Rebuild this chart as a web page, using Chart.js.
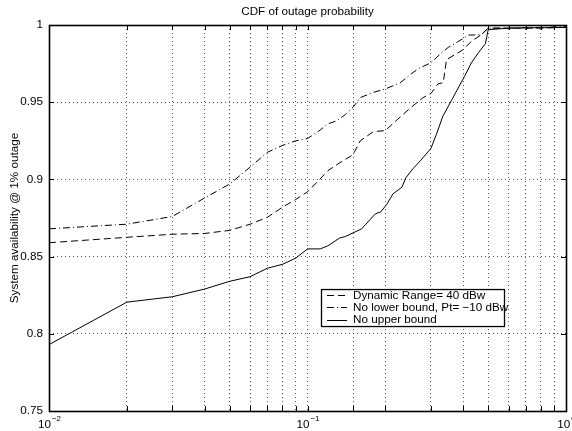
<!DOCTYPE html>
<html>
<head>
<meta charset="utf-8">
<script src="https://cdn.jsdelivr.net/npm/chart.js@4"></script>
<style>
  body { margin: 0; background: #fff; }
  canvas { display: block; }
</style>
</head>
<body>
<canvas id="cdfChart" width="572" height="431"></canvas>
<script>
// values
const rangeX = [0.01, 0.02, 0.03, 0.04, 0.05, 0.06, 0.07, 0.08, 0.09, 0.1, 0.11, 0.12, 0.13, 0.14, 0.15, 0.16, 0.18, 0.2, 0.22, 0.25, 0.28, 0.3, 0.32, 0.335, 0.345, 0.4, 0.43, 0.47, 0.5, 0.6, 0.8, 1];
const rangeY = [0.859, 0.8625, 0.8645, 0.865, 0.867, 0.871, 0.8755, 0.882, 0.887, 0.892, 0.899, 0.9057, 0.9096, 0.913, 0.916, 0.925, 0.931, 0.9316, 0.938, 0.9463, 0.953, 0.9556, 0.962, 0.9626, 0.9776, 0.984, 0.9894, 0.9937, 0.998, 0.998, 0.998, 0.9985];

const lowerX = [0.01, 0.02, 0.03, 0.04, 0.05, 0.06, 0.07, 0.08, 0.09, 0.1, 0.11, 0.12, 0.13, 0.14, 0.15, 0.16, 0.18, 0.2, 0.228, 0.25, 0.27, 0.3, 0.33, 0.35, 0.38, 0.42, 0.47, 0.5, 0.6, 0.8, 1];
const lowerY = [0.868, 0.871, 0.876, 0.888, 0.897, 0.908, 0.9176, 0.922, 0.925, 0.9265, 0.931, 0.936, 0.938, 0.942, 0.9467, 0.953, 0.9564, 0.9586, 0.9625, 0.968, 0.972, 0.9755, 0.982, 0.9855, 0.989, 0.9935, 0.9937, 0.998, 0.998, 0.9985, 0.999];

const upperX = [0.01, 0.02, 0.03, 0.04, 0.05, 0.06, 0.07, 0.08, 0.09, 0.1, 0.112, 0.12, 0.133, 0.14, 0.162, 0.183, 0.192, 0.203, 0.214, 0.232, 0.24, 0.256, 0.273, 0.3, 0.315, 0.334, 0.362, 0.385, 0.405, 0.43, 0.458, 0.488, 0.5, 0.6, 1];
const upperY = [0.793, 0.8205, 0.824, 0.829, 0.834, 0.837, 0.8425, 0.845, 0.849, 0.855, 0.855, 0.857, 0.862, 0.863, 0.868, 0.8777, 0.879, 0.884, 0.8906, 0.895, 0.901, 0.907, 0.912, 0.92, 0.929, 0.941, 0.9517, 0.96, 0.9667, 0.9754, 0.982, 0.988, 0.997, 0.998, 0.9985];

const seriesNames = ['Dynamic Range= 40 dBw', 'No lower bound, Pt= \u221210 dBw', 'No upper bound'];
const yTicks = [0.75, 0.8, 0.85, 0.9, 0.95, 1];

const FONT = "'Liberation Sans', Arial, Helvetica, sans-serif";
const FS = 11.7;

function toPoints(xs, ys) {
    return xs.map((x, i) => ({x: x, y: ys[i]}));
}

// frame, inside tick marks, x labels with exponents, legend box
const matlabAxes = {
    id: 'matlab-axes',
    afterDraw(chart) {
        const {ctx, chartArea} = chart;
        const {left, right, top, bottom} = chartArea;
        const xs = chart.scales.x;
        const ys = chart.scales.y;
        ctx.save();
        ctx.strokeStyle = '#000';
        ctx.lineWidth = 1;
        ctx.setLineDash([]);

        ctx.beginPath();
        xs.ticks.forEach(t => {
            const px = Math.round(xs.getPixelForValue(t.value)) + 0.5;
            ctx.moveTo(px, bottom); ctx.lineTo(px, bottom - 5);
            ctx.moveTo(px, top); ctx.lineTo(px, top + 5);
        });
        ys.ticks.forEach(t => {
            const py = Math.round(ys.getPixelForValue(t.value)) + 0.5;
            ctx.moveTo(left, py); ctx.lineTo(left + 5, py);
            ctx.moveTo(right, py); ctx.lineTo(right - 5, py);
        });
        ctx.stroke();
        ctx.lineWidth = 1.6;
        ctx.strokeRect(Math.round(left) + 0.5, Math.round(top) + 0.5, Math.round(right - left), Math.round(bottom - top));

        // x tick labels 10^n
        ctx.fillStyle = '#000';
        ctx.textBaseline = 'alphabetic';
        xs.ticks.forEach(t => {
            const e = Math.log10(t.value);
            if (Math.abs(e - Math.round(e)) > 1e-6) return;
            const exp = String(Math.round(e)).replace('-', '\u2212');
            ctx.font = FS + 'px ' + FONT;
            const wBase = ctx.measureText('10').width;
            ctx.font = '8px ' + FONT;
            const wExp = ctx.measureText(exp).width;
            const px = xs.getPixelForValue(t.value);
            const x0 = px - (wBase + wExp) / 2;
            ctx.font = FS + 'px ' + FONT;
            ctx.textAlign = 'left';
            ctx.fillText('10', x0, bottom + 17);
            ctx.font = '8px ' + FONT;
            ctx.fillText(exp, x0 + wBase + 1, bottom + 10);
        });

        // legend
        const lx = left + 272, ly = top + 264, lw = 183, lh = 37;
        ctx.fillStyle = '#fff';
        ctx.fillRect(lx, ly, lw, lh);
        ctx.lineWidth = 1.3;
        ctx.strokeRect(lx + 0.5, ly + 0.5, lw, lh);
        ctx.font = FS + 'px ' + FONT;
        ctx.textBaseline = 'middle';
        chart.data.datasets.forEach((ds, i) => {
            const cy = ly + 6 + i * 12.3;
            ctx.beginPath();
            ctx.lineWidth = 1;
            ctx.setLineDash(ds.borderDash || []);
            ctx.moveTo(lx + 6, Math.round(cy) + 0.5);
            ctx.lineTo(lx + 26, Math.round(cy) + 0.5);
            ctx.stroke();
            ctx.setLineDash([]);
            ctx.fillStyle = '#000';
            ctx.fillText(ds.label, lx + 32, cy + 0.5);
        });
        ctx.restore();
    }
};

new Chart(document.getElementById('cdfChart'), {
    type: 'line',
    data: {
        datasets: [
            {label: seriesNames[0], data: toPoints(rangeX, rangeY), borderDash: [7, 4]},
            {label: seriesNames[1], data: toPoints(lowerX, lowerY), borderDash: [7, 3, 1, 3]},
            {label: seriesNames[2], data: toPoints(upperX, upperY), borderDash: []},
        ].map(d => Object.assign(d, {
            borderColor: '#000',
            borderWidth: 1,
            pointRadius: 0,
            tension: 0,
            fill: false,
        }))
    },
    options: {
        responsive: false,
        animation: false,
        layout: {padding: {left: 0, right: 6, top: 0, bottom: 0}},
        plugins: {
            legend: {display: false},
            tooltip: {enabled: false},
            title: {
                display: true,
                text: 'CDF of outage probability',
                fullSize: false,
                color: '#000',
                font: {family: FONT, size: FS, weight: 'normal'},
                padding: {top: 5, bottom: 6},
            },
        },
        scales: {
            x: {
                type: 'logarithmic',
                min: 0.01,
                max: 1,
                border: {display: false, dash: [1, 3]},
                grid: {color: '#555', lineWidth: 1, drawTicks: false},
                ticks: {display: false, autoSkip: false},
                afterFit(scale) { scale.height = 20; },
            },
            y: {
                min: 0.75,
                max: 1,
                border: {display: false, dash: [1, 3]},
                afterBuildTicks(scale) {
                    scale.ticks = yTicks.map(v => ({value: v}));
                },
                grid: {color: '#555', lineWidth: 1, drawTicks: false},
                ticks: {
                    color: '#000',
                    padding: 6,
                    font: {family: FONT, size: FS},
                    callback: v => String(Number(v.toFixed(2))),
                },
                title: {
                    display: true,
                    text: 'System availability @ 1% outage',
                    color: '#000',
                    font: {family: FONT, size: FS},
                    padding: {top: 8, bottom: 0},
                },
                afterFit(scale) { scale.width = 49; },
            },
        },
    },
    plugins: [matlabAxes],
});
</script>
</body>
</html>
